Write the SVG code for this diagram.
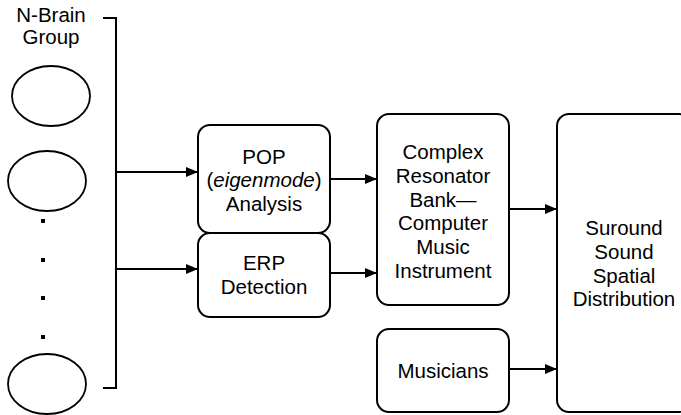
<svg xmlns="http://www.w3.org/2000/svg" width="681" height="415" viewBox="0 0 681 415">
<style>
.box{fill:#fff;stroke:#000;stroke-width:2}
.ell{fill:#fff;stroke:#000;stroke-width:1.8}
.ln{fill:none;stroke:#000;stroke-width:2}
text{font-family:"Liberation Sans",Arial,Helvetica,sans-serif;font-size:20.5px;fill:#000;text-anchor:middle}
</style>
<defs>
<marker id="ah" viewBox="0 0 10 10" refX="10" refY="5" markerWidth="12" markerHeight="10" markerUnits="userSpaceOnUse" orient="auto" preserveAspectRatio="none">
<path d="M0,0 L10,5 L0,10 Z" fill="#000"/>
</marker>
</defs>
<rect width="681" height="415" fill="#fff"/>
<g id="group-label">
<text x="51" y="22">N-Brain</text>
<text x="51" y="44">Group</text>
</g>
<g id="brain1"><ellipse class="ell" cx="51" cy="96" rx="39" ry="30"/></g>
<g id="brain2"><ellipse class="ell" cx="47" cy="181" rx="39" ry="30"/></g>
<g id="dots">
<rect x="41" y="219" width="4" height="4"/>
<rect x="41" y="258" width="4" height="4"/>
<rect x="41" y="296" width="4" height="4"/>
<rect x="41" y="335" width="4" height="4"/>
</g>
<g id="brainN"><ellipse class="ell" cx="47" cy="384" rx="39" ry="30"/></g>
<g id="pop">
<rect class="box" x="198" y="125" width="132" height="108" rx="12"/>
<text x="264" y="164">POP</text>
<text x="264" y="187">(<tspan font-style="italic">eigenmode</tspan>)</text>
<text x="264" y="211">Analysis</text>
</g>
<g id="erp">
<rect class="box" x="198" y="233" width="132" height="84" rx="12"/>
<text x="264" y="270">ERP</text>
<text x="264" y="294">Detection</text>
</g>
<g id="resonator">
<rect class="box" x="377" y="114" width="132" height="191" rx="12"/>
<text x="443" y="159">Complex</text>
<text x="443" y="183">Resonator</text>
<text x="443" y="207">Bank—</text>
<text x="443" y="230">Computer</text>
<text x="443" y="254">Music</text>
<text x="443" y="278">Instrument</text>
</g>
<g id="musicians">
<rect class="box" x="377" y="329" width="132" height="83" rx="12"/>
<text x="443" y="378">Musicians</text>
</g>
<g id="surround">
<rect class="box" x="557" y="114" width="134" height="298" rx="12"/>
<text x="624" y="235">Suround</text>
<text x="624" y="259">Sound</text>
<text x="624" y="283">Spatial</text>
<text x="624" y="306">Distribution</text>
</g>
<g id="connectors">
<path class="ln" d="M103,18 H116 V388 H103"/>
<line class="ln" x1="116" y1="172" x2="198" y2="172" marker-end="url(#ah)"/>
<line class="ln" x1="116" y1="269" x2="198" y2="269" marker-end="url(#ah)"/>
<line class="ln" x1="330" y1="179" x2="377" y2="179" marker-end="url(#ah)"/>
<line class="ln" x1="330" y1="273" x2="377" y2="273" marker-end="url(#ah)"/>
<line class="ln" x1="509" y1="209" x2="557" y2="209" marker-end="url(#ah)"/>
<line class="ln" x1="509" y1="369" x2="557" y2="369" marker-end="url(#ah)"/>
</g>
</svg>
